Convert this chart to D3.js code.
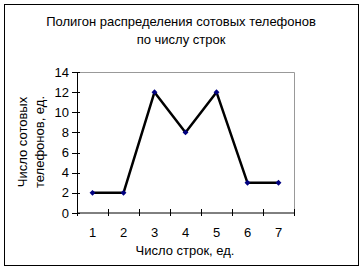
<!DOCTYPE html>
<html>
<head>
<meta charset="utf-8">
<script src="https://cdn.jsdelivr.net/npm/d3@7"></script>
<style>
  body { margin: 0; background: #fff; }
  text { font-family: "Liberation Sans", Arial, sans-serif; fill: #000; }
</style>
</head>
<body>
<svg width="364" height="271"></svg>
<script>
let categories = ["1", "2", "3", "4", "5", "6", "7"];
let phones = [2, 2, 12, 8, 12, 3, 3];
let yTicks = [0, 2, 4, 6, 8, 10, 12, 14];

let svg = d3.select("svg"),
  margin = { top: 72, right: 70, bottom: 58, left: 77 },
  width = 364 - margin.left - margin.right,
  height = 271 - margin.top - margin.bottom;

// outer frame
svg.append("rect")
  .attr("x", 4.5).attr("y", 4.5)
  .attr("width", 354).attr("height", 261)
  .attr("fill", "#fff").attr("stroke", "#000").attr("stroke-width", 1);

let title = svg.append("text")
  .attr("text-anchor", "middle")
  .style("font-size", "13px");
title.append("tspan").attr("x", 181).attr("y", 26).text("Полигон распределения сотовых телефонов");
title.append("tspan").attr("x", 181).attr("y", 44).text("по числу строк");

let g = svg.append("g").attr("transform", "translate(" + margin.left + "," + margin.top + ")");

let x = d3.scaleBand().domain(categories).range([0, width]);
let y = d3.scaleLinear().domain([0, 14]).range([height, 0]);

// plot area border (top, right)
g.append("path")
  .attr("d", "M0.5,0.5H" + (width + 0.5) + "V" + height)
  .attr("fill", "none").attr("stroke", "#999");

// x axis
let xAxis = g.append("g").attr("transform", "translate(0," + height + ")");
xAxis.append("line").attr("x1", 0).attr("x2", width + 0.5).attr("stroke", "#000");
xAxis.selectAll(".xt")
  .data(d3.range(categories.length + 1))
  .enter().append("line")
  .attr("x1", i => Math.round(i * x.bandwidth()) + 0.5)
  .attr("x2", i => Math.round(i * x.bandwidth()) + 0.5)
  .attr("y1", -4).attr("y2", 3)
  .attr("stroke", "#000");
xAxis.selectAll(".xl")
  .data(categories)
  .enter().append("text")
  .attr("x", d => x(d) + x.bandwidth() / 2)
  .attr("y", 24)
  .attr("text-anchor", "middle")
  .style("font-size", "13px")
  .text(d => d);

// y axis
let yAxis = g.append("g");
yAxis.append("line").attr("x1", 0.5).attr("x2", 0.5).attr("y1", 0).attr("y2", height).attr("stroke", "#000");
yAxis.selectAll(".yt")
  .data(yTicks)
  .enter().append("line")
  .attr("x1", -5).attr("x2", 3)
  .attr("y1", d => Math.round(y(d)) + 0.5)
  .attr("y2", d => Math.round(y(d)) + 0.5)
  .attr("stroke", "#000");
yAxis.selectAll(".yl")
  .data(yTicks)
  .enter().append("text")
  .attr("x", -8)
  .attr("y", d => y(d))
  .attr("dy", "0.35em")
  .attr("text-anchor", "end")
  .style("font-size", "13px")
  .text(d => d);

// axis titles
svg.append("text")
  .attr("x", 185).attr("y", 255)
  .attr("text-anchor", "middle")
  .style("font-size", "13px")
  .text("Число строк, ед.");

let yTitle = svg.append("text")
  .attr("transform", "translate(0,142) rotate(-90)")
  .attr("text-anchor", "middle")
  .style("font-size", "13px");
yTitle.append("tspan").attr("x", 0).attr("y", 27).text("Число сотовых");
yTitle.append("tspan").attr("x", 0).attr("y", 44).text("телефонов, ед.");

// polygon line
let line = d3.line()
  .x((d, i) => x(categories[i]) + x.bandwidth() / 2)
  .y(d => y(d));

g.append("path")
  .datum(phones)
  .attr("d", line)
  .attr("fill", "none")
  .attr("stroke", "#000")
  .attr("stroke-width", 2.5)
  .attr("stroke-linejoin", "round");

g.selectAll(".pt")
  .data(phones)
  .enter().append("path")
  .attr("d", d3.symbol().type(d3.symbolDiamond2).size(22))
  .attr("transform", (d, i) => "translate(" + (x(categories[i]) + x.bandwidth() / 2) + "," + y(d) + ")")
  .attr("fill", "#000080");
</script>
</body>
</html>
